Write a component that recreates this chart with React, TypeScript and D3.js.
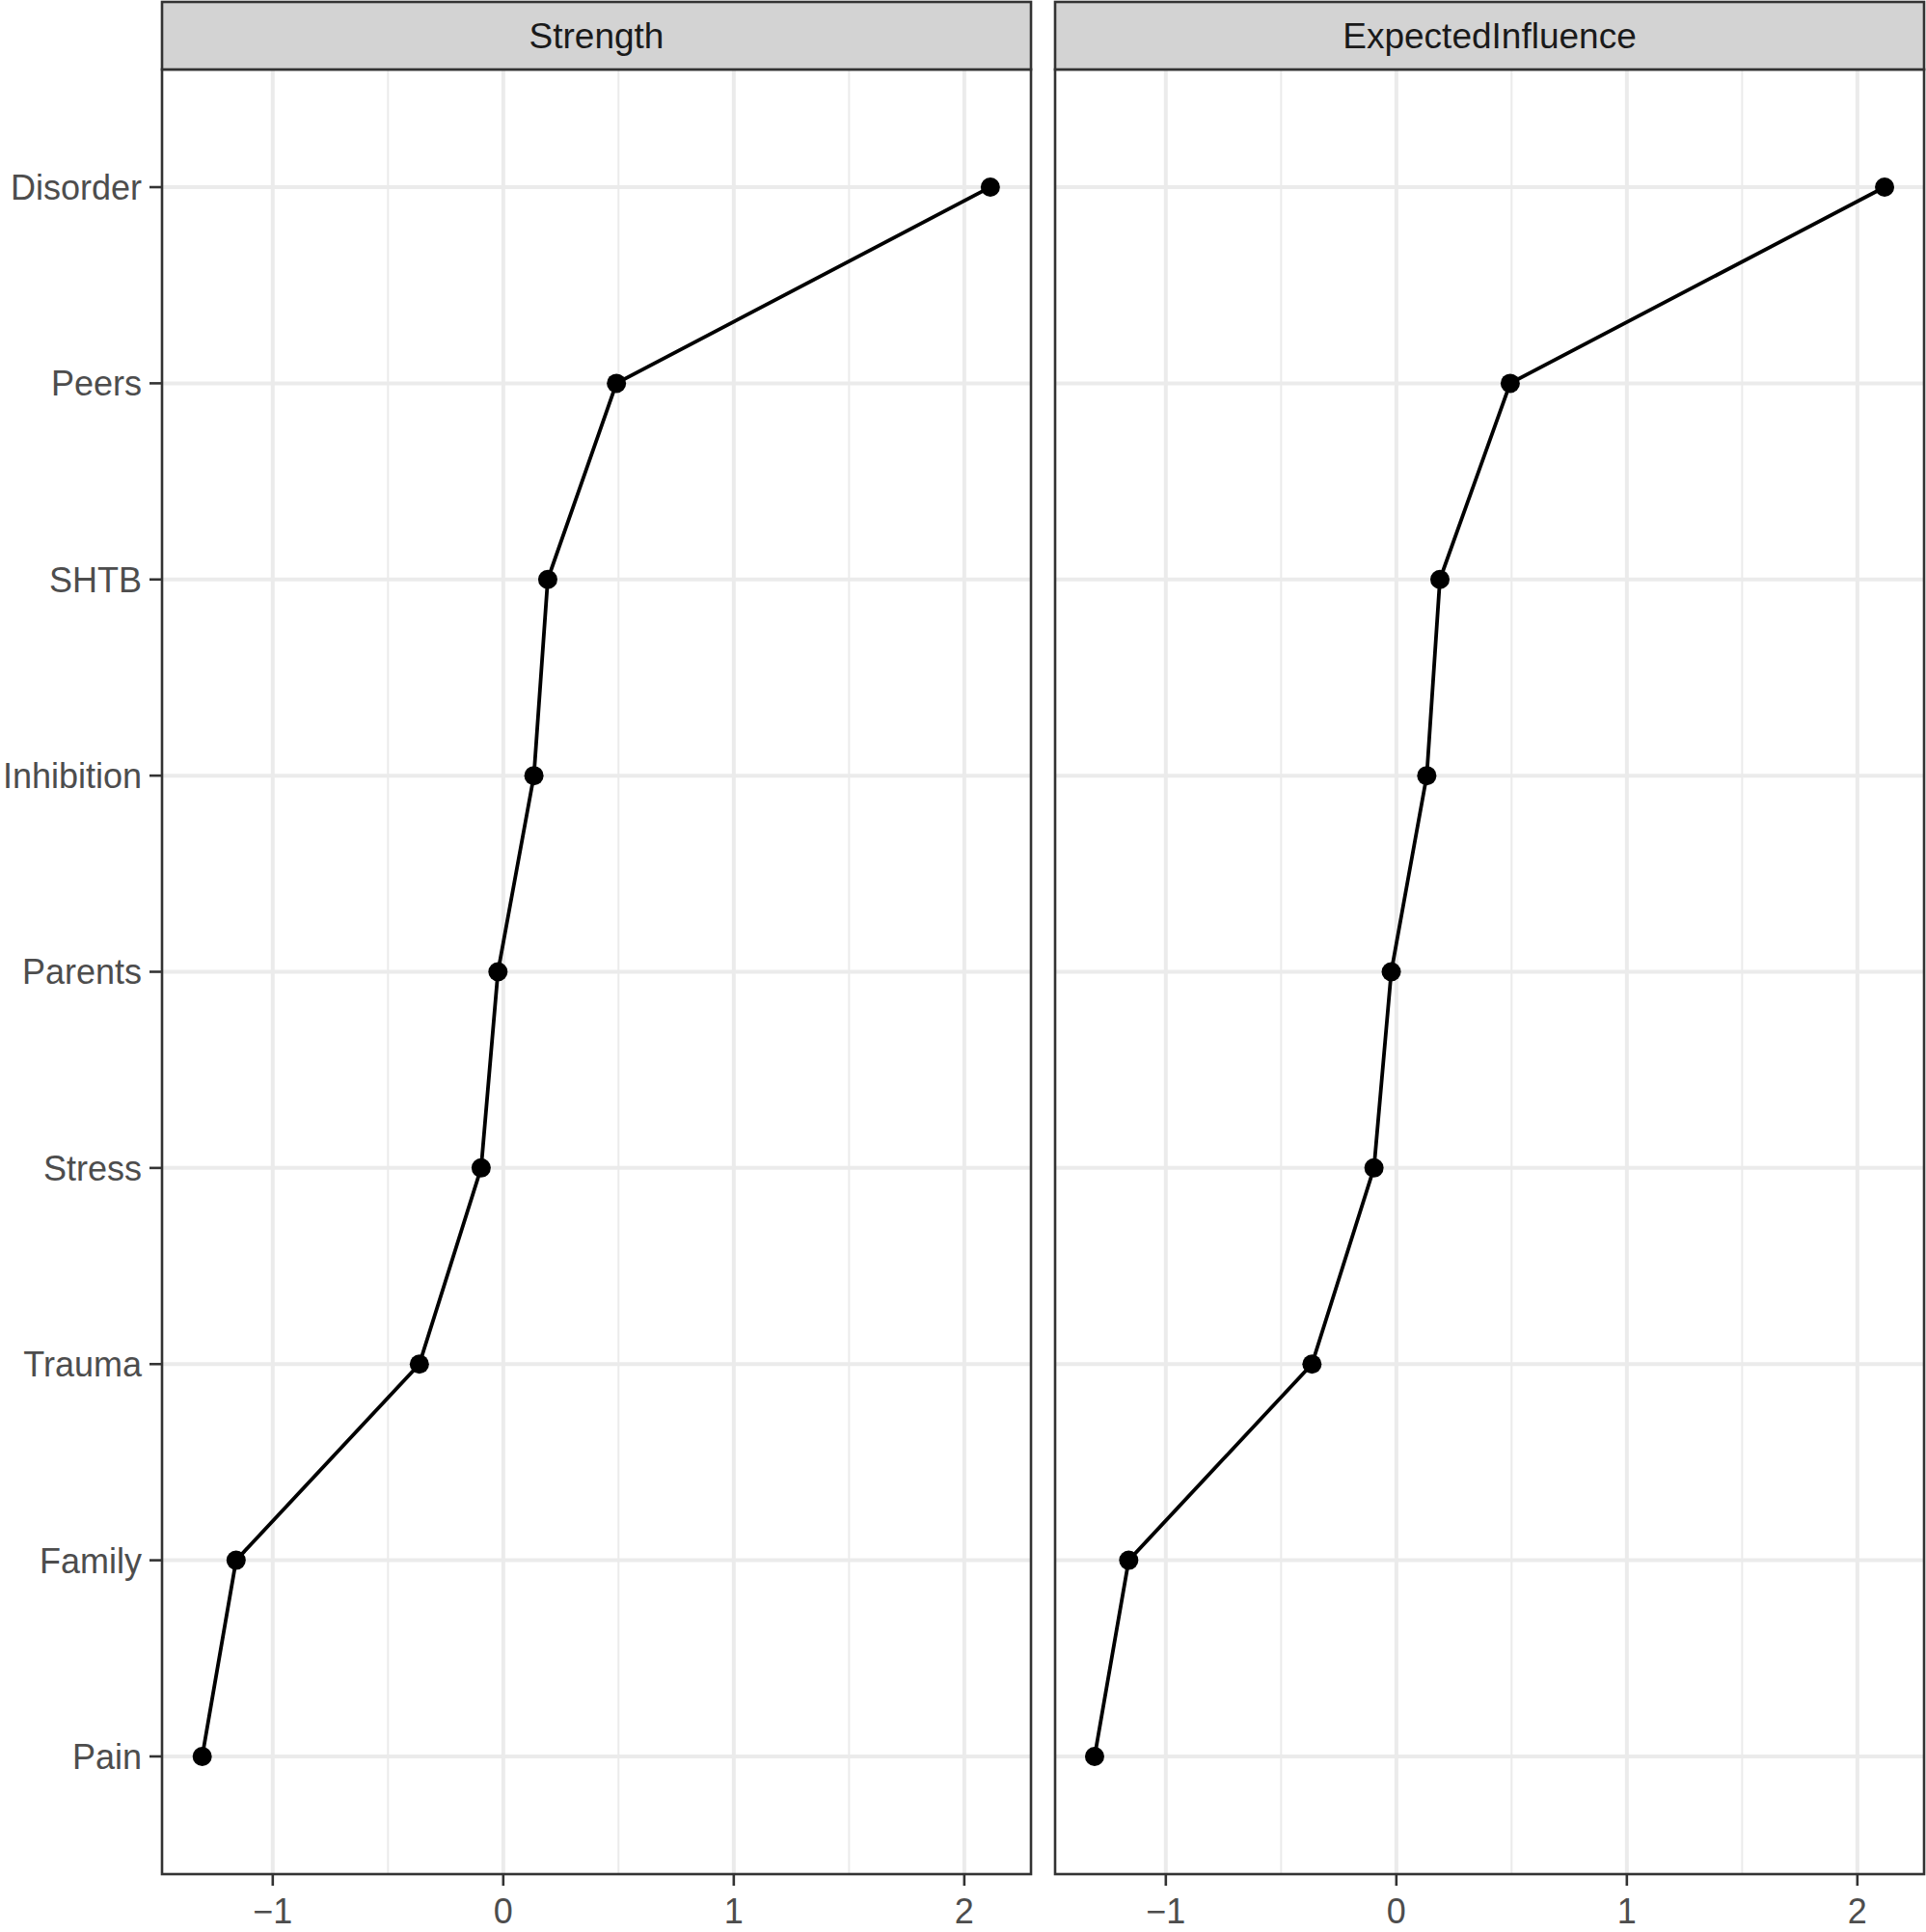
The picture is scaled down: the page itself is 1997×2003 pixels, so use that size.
import * as d3 from "d3";

// node names, top to bottom
const nodes = ["Disorder", "Peers", "SHTB", "Inhibition", "Parents", "Stress", "Trauma", "Family", "Pain"];
// centrality z-scores
const strengthValues = [2.113, 0.491, 0.193, 0.133, -0.023, -0.096, -0.364, -1.159, -1.306];
const expectedInfluenceValues = [2.118, 0.494, 0.189, 0.132, -0.022, -0.097, -0.366, -1.161, -1.309];
const panelTitles = ["Strength", "ExpectedInfluence"];
const majorTicks = [-1, 0, 1, 2];
const minorTicks = [-1.5, -0.5, 0.5, 1.5, 2.5];

const W = 1997;
const H = 2003;
const top = 72;
const bottom = 1943;
const stripTop = 2;
const panels = [
  { x0: 168, x1: 1069 },
  { x0: 1094, x1: 1995 },
];
const font = "'Liberation Sans', Arial, sans-serif";

export default function App() {
  const series = [strengthValues, expectedInfluenceValues];
  const all = series.flat();
  const [lo, hi] = d3.extent(all) as [number, number];
  const pad = (hi - lo) * 0.05;

  const y = d3.scalePoint<string>().domain(nodes).range([top, bottom]).padding(0.6);

  return (
    <svg
      width={W}
      height={H}
      style={{ position: "absolute", left: 0, top: 0, background: "#fff" }}
      fontFamily={font}
    >
      {panels.map((p, pi) => {
        const x = d3.scaleLinear().domain([lo - pad, hi + pad]).range([p.x0, p.x1]);
        const [dmin, dmax] = x.domain();
        const line = d3
          .line<number>()
          .x((v) => x(v))
          .y((_, i) => y(nodes[i])!);
        const vals = series[pi];
        return (
          <g key={pi}>
            <rect x={p.x0} y={top} width={p.x1 - p.x0} height={bottom - top} fill="#fff" />
            {minorTicks
              .filter((t) => t > dmin && t < dmax)
              .map((t) => (
                <line key={"mn" + t} x1={x(t)} x2={x(t)} y1={top} y2={bottom} stroke="#EBEBEB" strokeWidth={2} />
              ))}
            {nodes.map((n) => (
              <line key={"hy" + n} x1={p.x0} x2={p.x1} y1={y(n)} y2={y(n)} stroke="#EBEBEB" strokeWidth={4} />
            ))}
            {majorTicks.map((t) => (
              <line key={"mj" + t} x1={x(t)} x2={x(t)} y1={top} y2={bottom} stroke="#EBEBEB" strokeWidth={4} />
            ))}
            <path d={line(vals) ?? ""} fill="none" stroke="#000" strokeWidth={3.8} />
            {vals.map((v, i) => (
              <circle key={"pt" + i} cx={x(v)} cy={y(nodes[i])} r={10} fill="#000" />
            ))}
            <rect
              x={p.x0}
              y={top}
              width={p.x1 - p.x0}
              height={bottom - top}
              fill="none"
              stroke="#333333"
              strokeWidth={2.6}
            />
            {/* strip */}
            <rect
              x={p.x0}
              y={stripTop}
              width={p.x1 - p.x0}
              height={top - stripTop}
              fill="#D3D3D3"
              stroke="#333333"
              strokeWidth={2.6}
            />
            <text x={(p.x0 + p.x1) / 2} y={50} textAnchor="middle" fontSize={37} fill="#1A1A1A">
              {panelTitles[pi]}
            </text>
            {/* x axis */}
            {majorTicks.map((t) => (
              <g key={"xt" + t}>
                <line x1={x(t)} x2={x(t)} y1={bottom} y2={bottom + 12} stroke="#333333" strokeWidth={2.6} />
                <text x={x(t)} y={1994} textAnchor="middle" fontSize={36} fill="#4D4D4D">
                  {t < 0 ? "\u2212" + Math.abs(t) : String(t)}
                </text>
              </g>
            ))}
          </g>
        );
      })}
      {/* y axis on left panel */}
      {nodes.map((n) => (
        <g key={"yl" + n}>
          <line x1={panels[0].x0 - 13} x2={panels[0].x0} y1={y(n)} y2={y(n)} stroke="#333333" strokeWidth={2.6} />
          <text x={147} y={y(n)} dy="0.36em" textAnchor="end" fontSize={36} fill="#4D4D4D">
            {n}
          </text>
        </g>
      ))}
    </svg>
  );
}
